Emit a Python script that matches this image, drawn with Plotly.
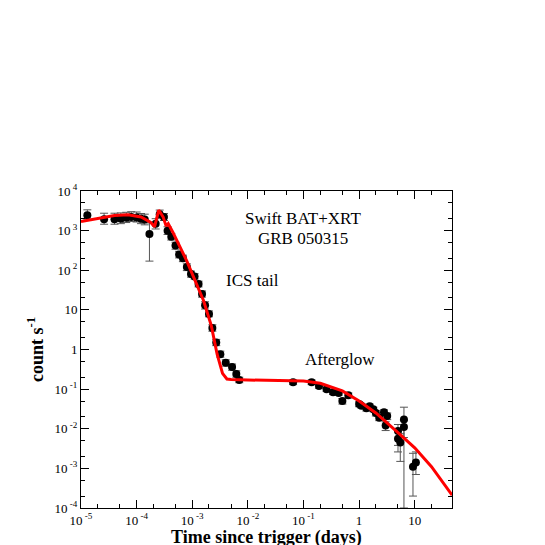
import math
import plotly.graph_objects as go

# BAT + XRT data points (days, count/s)
t = [1.3e-5, 2.6e-5, 4e-5, 5.2e-5, 6.5e-5, 8e-5, 1e-4, 1.2e-4, 1.4e-4, 1.7e-4, 2.2e-4, 2.6e-4, 3.1e-4, 3.6e-4, 4.2e-4, 5e-4, 5.8e-4, 6.8e-4, 8e-4, 9.5e-4, 1.1e-3, 1.3e-3, 1.5e-3, 1.7e-3, 2e-3, 2.3e-3, 2.7e-3, 3.2e-3, 4e-3, 5.2e-3, 6.2e-3, 7e-3,
     0.065, 0.14, 0.19, 0.26, 0.34, 0.43, 0.5, 0.64, 1.0, 1.1, 1.35, 1.55, 1.8, 2.0, 2.3, 2.8, 3.2, 3.0, 5.0, 5.0, 5.5, 6.4, 6.4, 9.3, 10.5]
rate = [2450, 1950, 1950, 2000, 2100, 2200, 2150, 2000, 1900, 820, 1500, 2600, 2200, 1000, 700, 420, 250, 200, 120, 80, 70, 45, 25, 13, 7.9, 3.5, 1.5, 0.76, 0.46, 0.36, 0.24, 0.17,
        0.15, 0.15, 0.12, 0.10, 0.083, 0.08, 0.05, 0.07, 0.042, 0.038, 0.033, 0.037, 0.031, 0.025, 0.019, 0.026, 0.021, 0.012, 0.0088, 0.0056, 0.0045, 0.017, 0.011, 0.0011, 0.0014]
err_up = [900, 800, 800, 800, 800, 800, 800, 700, 700, 740, 500, 700, 500, 250, 150, 90, 50, 40, 25, 15, 12, 8, 5, 3, 1.5, 0.7, 0.3, 0.15, 0.09, 0.07, 0.05, 0.03,
          0.02, 0.02, 0.015, 0.012, 0.01, 0.01, 0.008, 0.01, 0.006, 0.005, 0.005, 0.005, 0.004, 0.004, 0.003, 0.004, 0.004, 0.003, 0.004, 0.003, 0.003, 0.018, 0.005, 0.0013, 0.0012]
err_dn = [500, 500, 500, 500, 500, 500, 500, 500, 500, 650, 400, 500, 400, 200, 120, 80, 45, 35, 22, 13, 10, 7, 4, 2.5, 1.2, 0.6, 0.25, 0.12, 0.08, 0.06, 0.04, 0.025,
          0.02, 0.02, 0.015, 0.012, 0.01, 0.01, 0.008, 0.01, 0.006, 0.005, 0.005, 0.005, 0.004, 0.004, 0.003, 0.004, 0.004, 0.003, 0.005, 0.003, 0.003, 0.0169, 0.005, 0.0009, 0.0007]

# Model curve
mt = [1e-5, 2e-5, 4e-5, 7e-5, 1.2e-4, 1.8e-4, 2.1e-4, 2.5e-4, 3e-4, 3.4e-4, 3.7e-4, 4.5e-4, 8e-4, 1.6e-3, 2.2e-3, 2.8e-3, 3.5e-3, 4.2e-3, 5e-3, 1e-2, 0.1, 0.2, 0.5, 1, 2, 5, 10, 20, 47]
mr = [1700, 2000, 2400, 2500, 2200, 1600, 1250, 3300, 2200, 1300, 1500, 900, 170, 17, 4, 0.76, 0.25, 0.18, 0.175, 0.17, 0.16, 0.14, 0.09, 0.05, 0.025, 0.008, 0.0033, 0.0011, 0.00021]

yticks = [1e-4, 1e-3, 1e-2, 1e-1, 1, 10, 1e2, 1e3, 1e4]
ylabels = ["10<sup> -4</sup>", "10<sup> -3</sup>", "10<sup> -2</sup>", "10<sup> -1</sup>", "1", "10", "10<sup> 2</sup>", "10<sup> 3</sup>", "10<sup> 4</sup>"]
xticks = [1e-5, 1e-4, 1e-3, 1e-2, 1e-1, 1, 10]
xlabels = ["10<sup> -5</sup>", "10<sup> -4</sup>", "10<sup> -3</sup>", "10<sup> -2</sup>", "10<sup> -1</sup>", "1", "10"]

serif = "Liberation Serif, Times New Roman, serif"
fig = go.Figure()
fig.add_trace(go.Scatter(x=t, y=rate, mode="markers",
                         marker=dict(color="black", size=8),
                         error_y=dict(type="data", array=err_up, arrayminus=err_dn, color="#555", thickness=1, width=4)))
fig.add_trace(go.Scatter(x=mt, y=mr, mode="lines", line=dict(color="red", width=3)))

for txt, x, y in [("Swift BAT+XRT", 1e-1, 2000), ("GRB 050315", 1e-1, 620),
                  ("ICS tail", 1.2e-2, 55), ("Afterglow", 0.45, 0.55)]:
    fig.add_annotation(x=math.log10(x), y=math.log10(y), text=txt,
                       showarrow=False, font=dict(family=serif, size=17, color="black"))

fig.add_annotation(xref="paper", yref="paper", x=0.5, y=0, yshift=-29, yanchor="middle",
                   text="<b>Time since trigger (days)</b>", showarrow=False,
                   font=dict(family=serif, size=18, color="black"))

axis_common = dict(type="log", showgrid=False, zeroline=False, showline=True, linecolor="black", linewidth=1,
                   mirror="allticks", ticks="inside", ticklen=8, tickcolor="black",
                   minor=dict(ticks="inside", ticklen=4, tickcolor="black", showgrid=False),
                   tickfont=dict(family=serif, size=13, color="black"), automargin=False)
fig.update_layout(
    width=545, height=545, plot_bgcolor="white", paper_bgcolor="white", showlegend=False,
    margin=dict(l=73, r=101, t=183, b=45),
    xaxis=dict(range=[-5, 1.67], tickvals=xticks, ticktext=xlabels, **axis_common),
    yaxis=dict(range=[-4, 4], tickvals=yticks, ticktext=ylabels,
               title=dict(text="<b>count s<sup>-1</sup></b>", font=dict(family=serif, size=18, color="black"), standoff=6),
               **axis_common),
)
fig.write_html("out.html")
